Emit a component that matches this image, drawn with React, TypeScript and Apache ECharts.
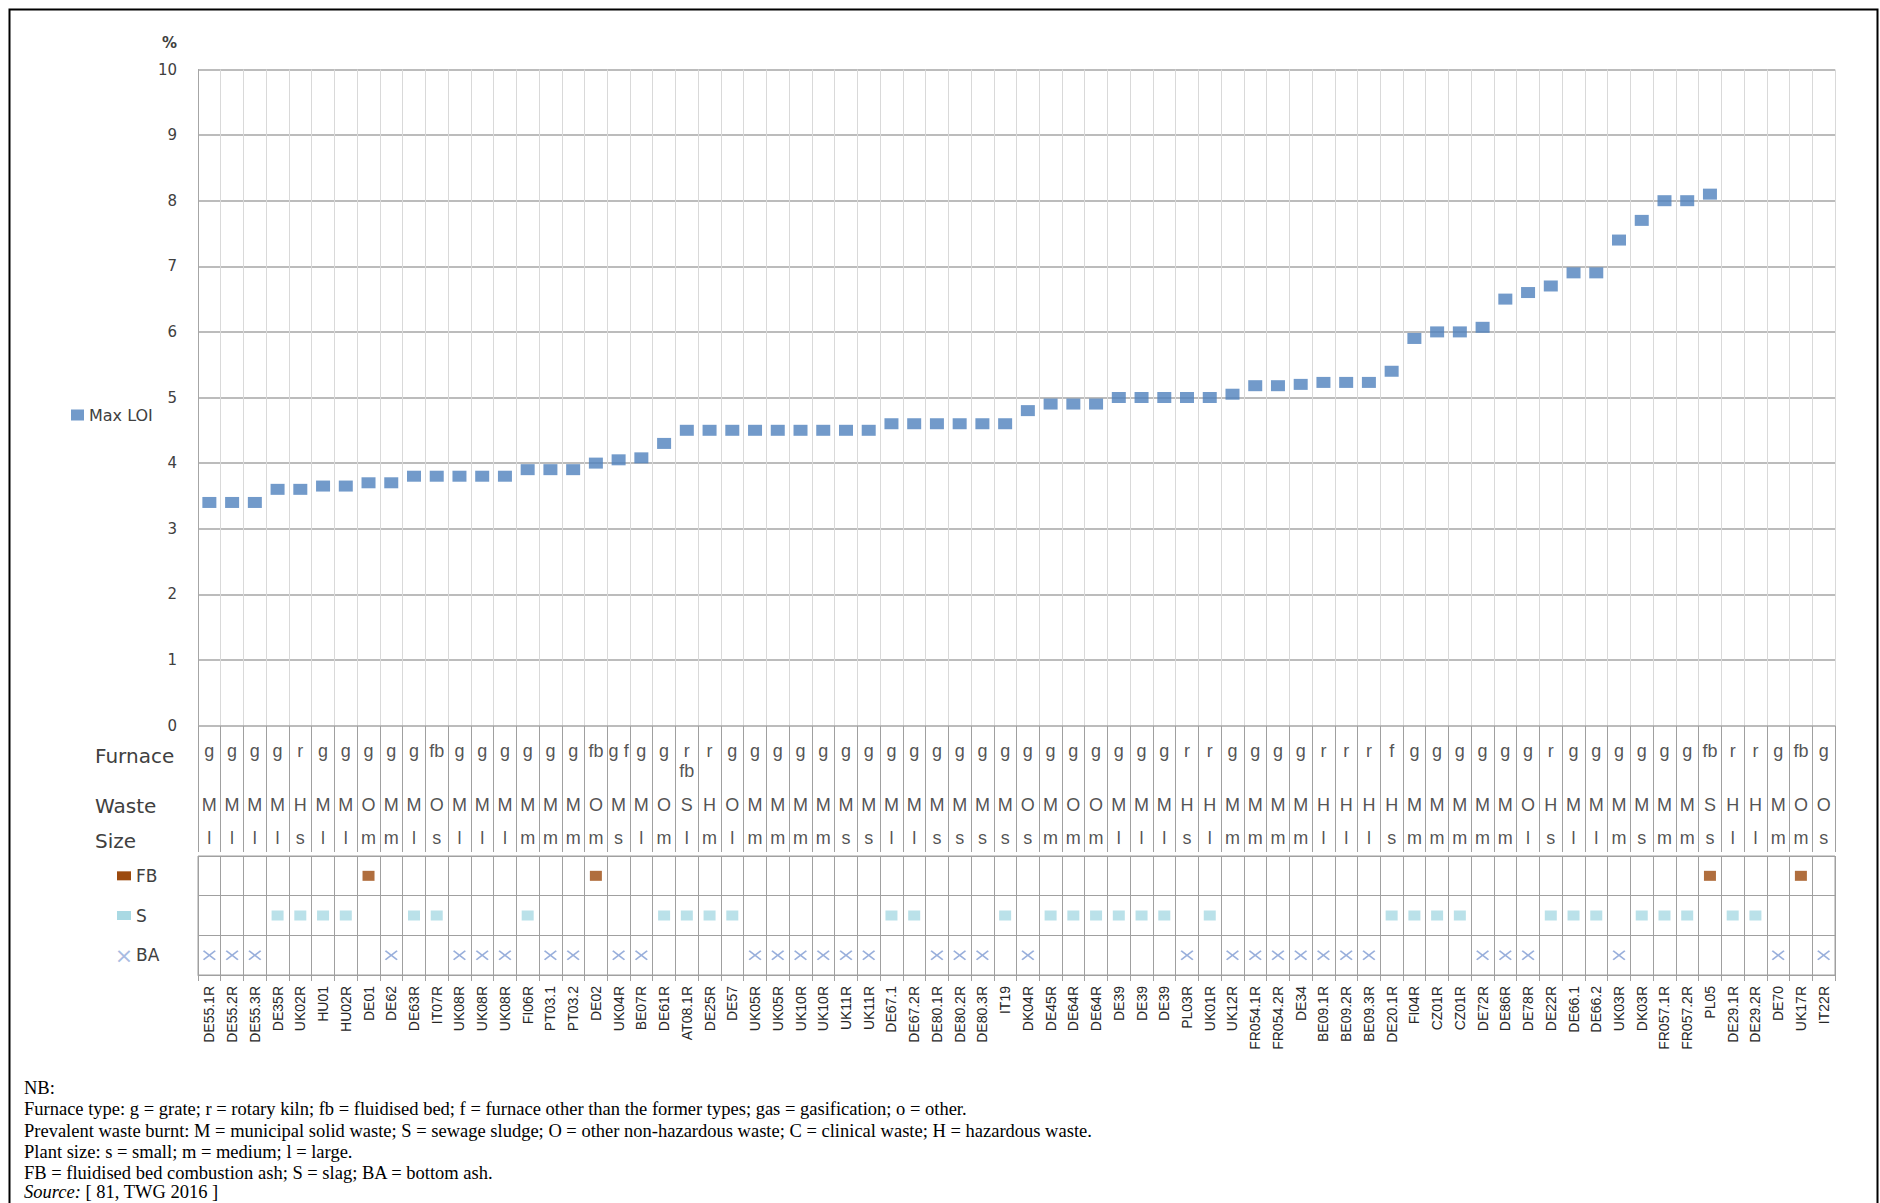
import React, { useEffect, useRef } from 'react';
import * as echarts from 'echarts';

const plants = ['DE55.1R','DE55.2R','DE55.3R','DE35R','UK02R','HU01','HU02R','DE01','DE62','DE63R','IT07R','UK08R','UK08R','UK08R','FI06R','PT03.1','PT03.2','DE02','UK04R','BE07R','DE61R','AT08.1R','DE25R','DE57',
  'UK05R','UK05R','UK10R','UK10R','UK11R','UK11R','DE67.1','DE67.2R','DE80.1R','DE80.2R','DE80.3R','IT19','DK04R','DE45R','DE64R','DE64R','DE39','DE39','DE39','PL03R','UK01R','UK12R','FR054.1R','FR054.2R',
  'DE34','BE09.1R','BE09.2R','BE09.3R','DE20.1R','FI04R','CZ01R','CZ01R','DE72R','DE86R','DE78R','DE22R','DE66.1','DE66.2','UK03R','DK03R','FR057.1R','FR057.2R','PL05','DE29.1R','DE29.2R','DE70','UK17R','IT22R'];

const maxLoi: (number | null)[] = [3.4,3.4,3.4,3.6,3.6,3.65,3.65,3.7,3.7,3.8,3.8,3.8,3.8,3.8,3.9,3.9,3.9,4.0,4.05,4.08,4.3,4.5,4.5,4.5,
  4.5,4.5,4.5,4.5,4.5,4.5,4.6,4.6,4.6,4.6,4.6,4.6,4.8,4.9,4.9,4.9,5.0,5.0,5.0,5.0,5.0,5.05,5.18,5.18,
  5.2,5.23,5.23,5.23,5.4,5.9,6.0,6.0,6.07,6.5,6.6,6.7,6.9,6.9,7.4,7.7,8.0,8.0,8.1,null,null,null,null,null];

const furnace = ['g','g','g','g','r','g','g','g','g','g','fb','g','g','g','g','g','g','fb','g f','g','g','r\nfb','r','g',
  'g','g','g','g','g','g','g','g','g','g','g','g','g','g','g','g','g','g','g','r','r','g','g','g',
  'g','r','r','r','f','g','g','g','g','g','g','r','g','g','g','g','g','g','fb','r','r','g','fb','g'];

const waste = ['M','M','M','M','H','M','M','O','M','M','O','M','M','M','M','M','M','O','M','M','O','S','H','O',
  'M','M','M','M','M','M','M','M','M','M','M','M','O','M','O','O','M','M','M','H','H','M','M','M',
  'M','H','H','H','H','M','M','M','M','M','O','H','M','M','M','M','M','M','S','H','H','M','O','O'];

const size = ['l','l','l','l','s','l','l','m','m','l','s','l','l','l','m','m','m','m','s','l','m','l','m','l',
  'm','m','m','m','s','s','l','l','s','s','s','s','s','m','m','m','l','l','l','s','l','m','m','m',
  'm','l','l','l','s','m','m','m','m','m','l','s','l','l','m','s','m','m','s','l','l','m','m','s'];

const residue = ['BA','BA','BA','S','S','S','S','FB','BA','S','S','BA','BA','BA','S','BA','BA','FB','BA','BA','S','S','S','S',
  'BA','BA','BA','BA','BA','BA','S','S','BA','BA','BA','S','BA','S','S','S','S','S','S','BA','S','BA','BA','BA',
  'BA','BA','BA','BA','S','S','S','S','BA','BA','BA','S','S','S','BA','S','S','S','FB','S','S','BA','FB','BA'];

const residueRows = ['FB', 'S', 'BA'];
const yTicks = { min: 0, max: 10, interval: 1 };

const notes = [
  'NB:',
  'Furnace type: g = grate; r = rotary kiln; fb = fluidised bed; f = furnace other than the former types; gas = gasification; o = other.',
  'Prevalent waste burnt: M = municipal solid waste; S = sewage sludge; O = other non-hazardous waste; C = clinical waste; H = hazardous waste.',
  'Plant size: s = small; m = medium; l = large.',
  'FB = fluidised bed combustion ash; S = slag; BA = bottom ash.',
];

const COLORS = { loi: '#4F81BD', fb: '#9C4A0E', s: '#A9D9E3', ba: '#7F9BD2' };
const GRID_LINE = '#A6A6A6';
const TABLE_LINE = '#A0A0A0';
const LABEL_FONT = 'DejaVu Sans';

export default function App() {
  const ref = useRef<HTMLDivElement>(null);
  useEffect(() => {
    const chart = echarts.init(ref.current!, null, { renderer: 'svg' });

    const textRow = (name: string, rows: string[], yPos: number) => ({
      name,
      type: 'scatter',
      xAxisIndex: 1,
      yAxisIndex: 1,
      symbolSize: 1,
      itemStyle: { color: 'rgba(0,0,0,0)' },
      label: {
        show: true,
        position: 'inside',
        color: '#262626',
        fontFamily: 'Liberation Sans',
        fontSize: 18,
        formatter: (p: any) => p.data.txt,
      },
      data: rows.map((t, i) => ({ value: [i, yPos], txt: t })).filter((d) => d.txt !== ''),
    });

    const furnaceLine1 = furnace.map((f) => f.split('\n')[0]);
    const furnaceLine2 = furnace.map((f) => f.split('\n')[1] || '');

    const residueSeries = (key: string, color: string, symbol: string, symbolSize: number[]) => ({
      name: key,
      type: 'scatter',
      xAxisIndex: 2,
      yAxisIndex: 2,
      symbol,
      symbolSize,
      itemStyle: { color },
      data: residue.map((r, i) => (r === key ? [i, residueRows.indexOf(key)] : null)).filter((d) => d !== null),
    });

    const crossPath = 'path://M0,1L1,0L5,4L9,0L10,1L6,5L10,9L9,10L5,6L1,10L0,9L4,5Z';

    const noteY = [1088, 1109, 1131, 1152, 1173];

    const option: any = {
      animation: false,
      backgroundColor: '#ffffff',
      textStyle: { fontFamily: 'Liberation Sans' },
      legend: {
        data: ['Max LOI'],
        left: 66,
        top: 402,
        icon: 'rect',
        itemWidth: 13,
        itemHeight: 11,
        itemGap: 6,
        textStyle: { fontFamily: LABEL_FONT, fontSize: 16, color: '#404040' },
      },
      grid: [
        { left: 198, right: 45, top: 69.5, height: 656 },
        { left: 198, right: 45, top: 725.5, height: 126.5 },
        { left: 198, right: 45, top: 856, height: 119, show: true, borderColor: TABLE_LINE, borderWidth: 1 },
      ],
      xAxis: [
        {
          gridIndex: 0, type: 'category', data: plants, boundaryGap: true,
          axisLine: { show: false }, axisTick: { show: false }, axisLabel: { show: false, interval: 0 },
          splitLine: { show: true, interval: 0, lineStyle: { color: '#D9D9D9', width: 1 } },
        },
        {
          gridIndex: 1, type: 'category', data: plants, boundaryGap: true,
          axisLine: { show: false }, axisTick: { show: false }, axisLabel: { show: false, interval: 0 },
          splitLine: { show: true, interval: 0, lineStyle: { color: TABLE_LINE, width: 1 } },
        },
        {
          gridIndex: 2, type: 'category', data: plants, boundaryGap: true, position: 'bottom',
          axisLine: { show: true, lineStyle: { color: TABLE_LINE } },
          axisTick: { show: true, interval: 0, length: 6, lineStyle: { color: TABLE_LINE } },
          axisLabel: { show: true, interval: 0, rotate: 90, margin: 11, fontSize: 14, color: '#262626', fontFamily: 'Liberation Sans' },
          splitLine: { show: true, interval: 0, lineStyle: { color: TABLE_LINE, width: 1 } },
        },
      ],
      yAxis: [
        {
          gridIndex: 0, type: 'value', min: yTicks.min, max: yTicks.max, interval: yTicks.interval,
          name: '%', nameLocation: 'end', nameGap: 19,
          nameTextStyle: { align: 'right', padding: [0, 21, 0, 0], fontFamily: LABEL_FONT, fontWeight: 'bold', fontSize: 15, color: '#404040' },
          axisLine: { show: true, lineStyle: { color: GRID_LINE } },
          axisTick: { show: false },
          axisLabel: { margin: 21, fontFamily: LABEL_FONT, fontWeight: 500, fontSize: 15, color: '#404040' },
          splitLine: { show: true, lineStyle: { color: GRID_LINE, width: 1.5 } },
        },
        { gridIndex: 1, type: 'value', min: 0, max: 4, inverse: true, show: false },
        {
          gridIndex: 2, type: 'category', data: residueRows, inverse: true, boundaryGap: true,
          axisLine: { show: false }, axisTick: { show: false },
          splitLine: { show: true, interval: 0, lineStyle: { color: TABLE_LINE, width: 1 } },
          axisLabel: {
            interval: 0, margin: 81, align: 'left',
            formatter: (v: string) => (v === 'BA' ? '{bam|×}{t|BA}' : `{${v === 'FB' ? 'fbm' : 'sm'}| }{t|${v}}`),
            rich: {
              fbm: { width: 14, height: 9, backgroundColor: COLORS.fb },
              sm: { width: 14, height: 9, backgroundColor: COLORS.s },
              bam: { width: 14, align: 'center', color: '#A9BCE2', fontSize: 22, fontFamily: LABEL_FONT },
              t: { padding: [0, 0, 0, 5], fontFamily: LABEL_FONT, fontSize: 17, color: '#404040' },
            },
          },
        },
      ],
      series: [
        {
          name: 'Max LOI', type: 'scatter', xAxisIndex: 0, yAxisIndex: 0,
          symbol: 'rect', symbolSize: [14, 11], itemStyle: { color: COLORS.loi },
          data: maxLoi.map((v, i) => (v === null ? null : [i, v])).filter((d) => d !== null),
        },
        textRow('Furnace', furnaceLine1, 0.8),
        textRow('Furnace2', furnaceLine2, 1.45),
        textRow('Waste', waste, 2.5),
        textRow('Size', size, 3.55),
        residueSeries('FB', COLORS.fb, 'rect', [12, 10]),
        residueSeries('S', COLORS.s, 'rect', [12, 10]),
        residueSeries('BA', COLORS.ba, crossPath, [13, 10]),
      ],
      graphic: [
        { type: 'rect', silent: true, shape: { x: 9.5, y: 9.5, width: 1868, height: 1300 }, style: { fill: 'none', stroke: '#000', lineWidth: 2 } },
        ...[['Furnace', 756], ['Waste', 806], ['Size', 841]].map(([t, y]) => ({
          type: 'text', x: 95, y: y as number, silent: true,
          style: { text: t as string, fontFamily: LABEL_FONT, fontSize: 20, fill: '#404040', align: 'left', verticalAlign: 'middle' },
        })),
        ...notes.map((t, k) => ({
          type: 'text', x: 24, y: noteY[k], silent: true,
          style: { text: t, fontFamily: 'Liberation Serif', fontSize: 18.5, fill: '#000', align: 'left', verticalAlign: 'middle' },
        })),
        {
          type: 'text', x: 24, y: 1192, silent: true,
          style: {
            text: '{i|Source:} [ 81, TWG 2016 ]', fontFamily: 'Liberation Serif', fontSize: 18.5, fill: '#000', align: 'left', verticalAlign: 'middle',
            rich: { i: { fontStyle: 'italic', fontFamily: 'Liberation Serif', fontSize: 18.5, fill: '#000' } },
          },
        },
      ],
    };
    chart.setOption(option);
    return () => chart.dispose();
  }, []);
  return <div ref={ref} style={{ position: 'fixed', left: 0, top: 0, width: 1880, height: 1203, background: '#fff' }} />;
}
